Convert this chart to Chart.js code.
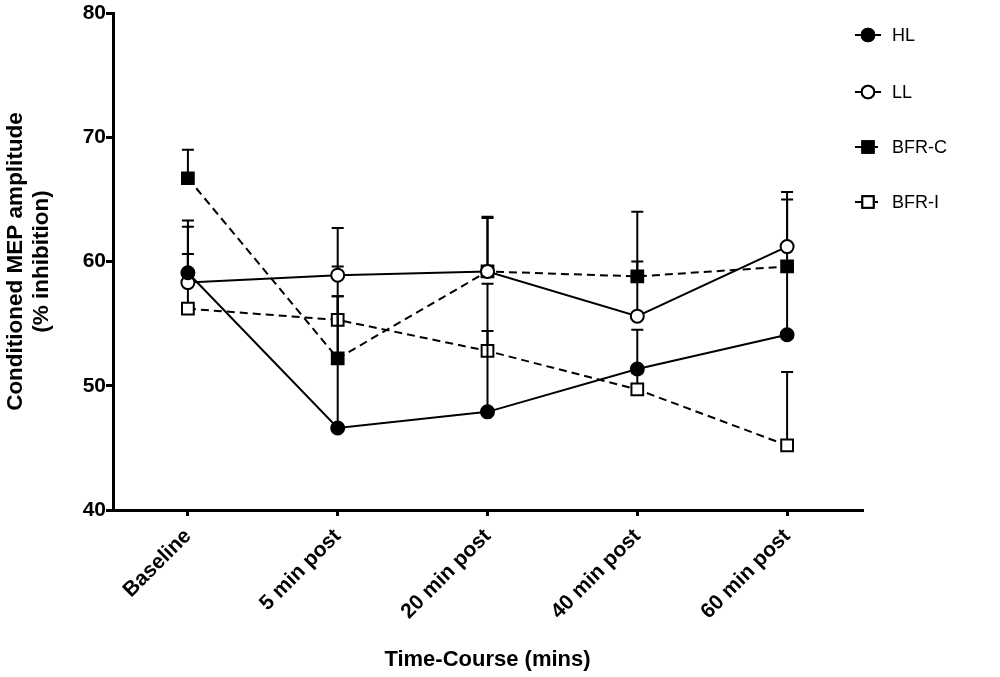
<!DOCTYPE html>
<html lang="en">
<head>
    <meta charset="UTF-8">
    <title>Conditioned MEP amplitude</title>
    <script src="https://cdn.jsdelivr.net/npm/chart.js"></script>
    <style>
        html, body {
            margin: 0;
            padding: 0;
            background: #fff;
        }
        .chart-container {
            width: 1000px;
            height: 677px;
        }
    </style>
</head>
<body>
    <div class="chart-container">
        <canvas id="mepChart"></canvas>
    </div>
    <script>
        const categories = ['Baseline', '5 min post', '20 min post', '40 min post', '60 min post'];
        const seriesNames = ['HL', 'LL', 'BFR-C', 'BFR-I'];

        // means and upper error (SEM)
        const hlMean = [59.1, 46.6, 47.9, 51.35, 54.1];
        const hlErr = [3.7, 10.6, 10.3, 3.15, 5.3];
        const llMean = [58.3, 58.9, 59.2, 55.6, 61.2];
        const llErr = [5.0, 3.8, 4.3, 4.4, 4.4];
        const bfrcMean = [66.7, 52.2, 59.2, 58.8, 59.6];
        const bfrcErr = [2.3, 7.4, 4.4, 5.2, 5.4];
        const bfriMean = [56.2, 55.3, 52.8, 49.7, 45.2];
        const bfriErr = [4.4, 1.9, 1.6, 1.3, 5.9];

        const yMin = 40;
        const yMax = 80;
        const yStep = 10;

        const fontFamily = '"Liberation Sans", Arial, sans-serif';

        function makeSet(i, values, errors, style, filled, dashed) {
            return {
                label: seriesNames[i],
                data: values,
                errors: errors,
                borderColor: '#000',
                borderWidth: 2,
                borderDash: dashed ? [8, 5] : [],
                fill: false,
                tension: 0,
                pointStyle: style,
                pointRadius: style === 'rect' ? 8.3 : 6.5,
                pointHoverRadius: style === 'rect' ? 8.3 : 6.5,
                pointBorderWidth: 2,
                pointBorderColor: '#000',
                pointBackgroundColor: filled ? '#000' : '#fff'
            };
        }

        // upper error bars, drawn with each dataset so the stacking matches
        const errorBars = {
            id: 'errorBars',
            beforeDatasetDraw(chart, args) {
                const ds = chart.data.datasets[args.index];
                const y = chart.scales.y;
                const ctx = chart.ctx;
                ctx.save();
                ctx.strokeStyle = '#000';
                ctx.lineWidth = 2;
                ctx.setLineDash([]);
                args.meta.data.forEach((pt, j) => {
                    const top = y.getPixelForValue(ds.data[j] + ds.errors[j]);
                    ctx.beginPath();
                    ctx.moveTo(pt.x, pt.y);
                    ctx.lineTo(pt.x, top);
                    ctx.moveTo(pt.x - 6, top);
                    ctx.lineTo(pt.x + 6, top);
                    ctx.stroke();
                });
                ctx.restore();
            }
        };

        // legend with line + symbol like the original figure
        const sideLegend = {
            id: 'sideLegend',
            afterDraw(chart) {
                const ctx = chart.ctx;
                const rows = [35, 92, 147, 202];
                ctx.save();
                chart.data.datasets.forEach((ds, i) => {
                    const cy = rows[i];
                    ctx.strokeStyle = '#000';
                    ctx.lineWidth = 2;
                    ctx.beginPath();
                    if (ds.borderDash.length) {
                        ctx.moveTo(855, cy);
                        ctx.lineTo(862, cy);
                        ctx.moveTo(875, cy);
                        ctx.lineTo(878, cy);
                    } else {
                        ctx.moveTo(855, cy);
                        ctx.lineTo(881, cy);
                    }
                    ctx.stroke();
                    Chart.helpers.drawPoint(ctx, {
                        pointStyle: ds.pointStyle,
                        radius: ds.pointStyle === 'rect' ? 8 : 6.3,
                        borderWidth: 2
                    }, 868, cy);
                    ctx.fillStyle = ds.pointBackgroundColor;
                    ctx.fill();
                    ctx.stroke();
                    ctx.fillStyle = '#000';
                    ctx.font = '18px ' + fontFamily;
                    ctx.textBaseline = 'middle';
                    ctx.textAlign = 'left';
                    ctx.fillText(ds.label, 892, cy + 1);
                });
                ctx.restore();
            }
        };

        const config = {
            type: 'line',
            data: {
                labels: categories,
                datasets: [
                    makeSet(0, hlMean, hlErr, 'circle', true, false),
                    makeSet(1, llMean, llErr, 'circle', false, false),
                    makeSet(2, bfrcMean, bfrcErr, 'rect', true, true),
                    makeSet(3, bfriMean, bfriErr, 'rect', false, true)
                ]
            },
            options: {
                responsive: true,
                maintainAspectRatio: false,
                animation: false,
                layout: {
                    padding: { left: 0, right: 138, top: 13, bottom: 0 }
                },
                plugins: {
                    legend: { display: false },
                    tooltip: { enabled: false }
                },
                scales: {
                    x: {
                        offset: true,
                        border: { display: true, color: '#000', width: 3 },
                        grid: {
                            drawOnChartArea: false,
                            drawTicks: true,
                            tickLength: 6,
                            lineWidth: 3,
                            color: '#000',
                            offset: false
                        },
                        ticks: {
                            color: '#000',
                            maxRotation: 45,
                            minRotation: 45,
                            padding: 8,
                            font: { family: fontFamily, size: 21, weight: 'bold' }
                        },
                        title: {
                            display: true,
                            text: 'Time-Course (mins)',
                            color: '#000',
                            padding: { top: 4, bottom: 4 },
                            font: { family: fontFamily, size: 22, weight: 'bold' }
                        },
                        afterFit(scale) {
                            scale.height = 167;
                        }
                    },
                    y: {
                        min: yMin,
                        max: yMax,
                        border: { display: true, color: '#000', width: 3 },
                        grid: {
                            drawOnChartArea: false,
                            drawTicks: true,
                            tickLength: 7,
                            lineWidth: 3,
                            color: '#000'
                        },
                        ticks: {
                            stepSize: yStep,
                            color: '#000',
                            padding: 0,
                            font: { family: fontFamily, size: 21, weight: 'bold' }
                        },
                        title: {
                            display: true,
                            text: ['Conditioned MEP amplitude', '(% inhibition)'],
                            color: '#000',
                            padding: { top: 3, bottom: 2 },
                            font: { family: fontFamily, size: 22.5, weight: 'bold', lineHeight: '26px' }
                        },
                        afterFit(scale) {
                            scale.width = 113;
                        }
                    }
                }
            },
            plugins: [errorBars, sideLegend]
        };

        const mepChart = new Chart(document.getElementById('mepChart'), config);
    </script>
</body>
</html>
